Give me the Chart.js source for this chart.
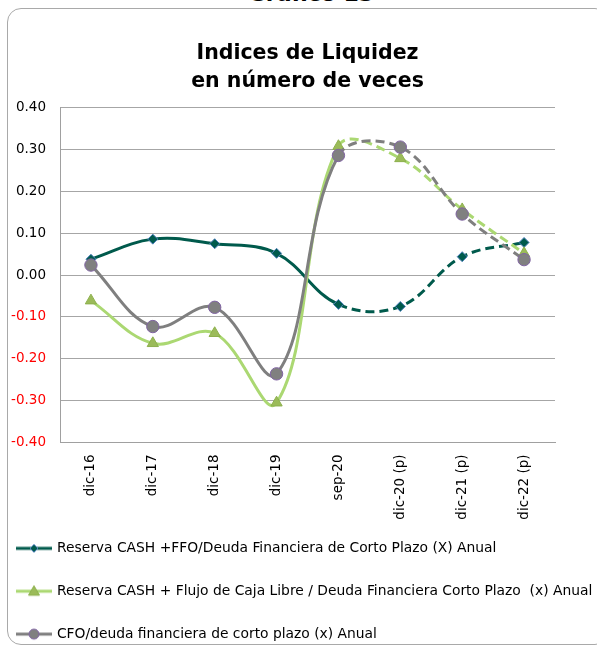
<!DOCTYPE html>
<html>
<head>
<meta charset="utf-8">
<script src="https://cdn.jsdelivr.net/npm/chart.js@4/dist/chart.umd.min.js"></script>
<style>
  html, body { margin: 0; padding: 0; background: #fff; width: 597px; height: 646px; overflow: hidden; }
  #frame { position: absolute; left: 7px; top: 8px; width: 600px; height: 635px;
           border: 1px solid #a9a9a9; border-radius: 14px; }
  #caption { position: absolute; left: 0; top: -17.5px; width: 622px; text-align: center;
             font: bold 22px "DejaVu Sans"; line-height: 22px; color: #000; }
  #wrap { position: absolute; left: 0; top: 0; width: 620px; height: 672px; }
</style>
</head>
<body>
<div id="frame"></div>
<div id="caption">Gráfico 13</div>
<div id="wrap"><canvas id="chart" width="620" height="672"></canvas></div>
<script>
// data
const categories = ['dic-16', 'dic-17', 'dic-18', 'dic-19', 'sep-20', 'dic-20 (p)', 'dic-21 (p)', 'dic-22 (p)'];
const reservaFfo = [0.038, 0.086, 0.075, 0.052, -0.070, -0.075, 0.044, 0.078];
const reservaFcl = [-0.061, -0.163, -0.139, -0.305, 0.308, 0.279, 0.157, 0.052];
const cfoDeuda = [0.024, -0.123, -0.077, -0.236, 0.286, 0.306, 0.146, 0.037];
const seriesNames = [
  'Reserva CASH +FFO/Deuda Financiera de Corto Plazo (X) Anual',
  'Reserva CASH + Flujo de Caja Libre / Deuda Financiera Corto Plazo  (x) Anual',
  'CFO/deuda financiera de corto plazo (x) Anual'
];
const titleLines = ['Indices de Liquidez', 'en número de veces'];
const yMin = -0.4, yMax = 0.4, yStep = 0.1;
const firstProjected = 4; // dashed from sep-20 on

const styles = [
  { line: '#005a4c', fill: '#005a4c', border: '#4f81bd', shape: 'rectRot', r: 5 },
  { line: '#abd872', fill: '#9bbb59', border: '#8db04d', shape: 'triangle', r: 6.5 },
  { line: '#7f7f7f', fill: '#808080', border: '#8064a2', shape: 'circle', r: 6.2 }
];

function legendIcon(s) {
  const c = document.createElement('canvas');
  c.width = 36; c.height = 14;
  const g = c.getContext('2d');
  g.strokeStyle = s.line; g.lineWidth = 3;
  g.beginPath(); g.moveTo(0, 7); g.lineTo(36, 7); g.stroke();
  g.fillStyle = s.fill; g.strokeStyle = s.border; g.lineWidth = 1;
  g.beginPath();
  if (s.shape === 'rectRot') {
    g.moveTo(18, 3); g.lineTo(22, 7); g.lineTo(18, 11); g.lineTo(14, 7);
  } else if (s.shape === 'triangle') {
    g.moveTo(18, 1.5); g.lineTo(23.5, 11); g.lineTo(12.5, 11);
  } else {
    g.arc(18, 7, 5, 0, Math.PI * 2);
  }
  g.closePath(); g.fill(); g.stroke();
  return c;
}

function makeSet(i, values) {
  const s = styles[i];
  return {
    label: seriesNames[i],
    data: values,
    order: 3 - i,
    borderColor: s.line,
    borderWidth: 3,
    tension: 0.38,
    pointStyle: s.shape,
    pointRadius: s.r,
    pointBackgroundColor: s.fill,
    pointBorderColor: s.border,
    pointBorderWidth: 1,
    segment: {
      borderDash: ctx => ctx.p0DataIndex >= firstProjected ? [9, 5] : undefined
    }
  };
}

// x labels need the full axis box (they are clipped to it), so pull the legend up a bit
// and let it run to the canvas edge like the original, which is cut off at the right
const legendShift = {
  id: 'legendShift',
  afterLayout(chart) {
    const lg = chart.legend;
    lg.top -= 10;
    lg.bottom -= 10;
    lg.right = chart.width;
    lg.width = lg.right - lg.left;
  }
};

Chart.defaults.font.family = '"DejaVu Sans"';
Chart.defaults.color = '#000';
Chart.defaults.animation = false;

new Chart(document.getElementById('chart'), {
  type: 'line',
  data: {
    labels: categories,
    datasets: [makeSet(0, reservaFfo), makeSet(1, reservaFcl), makeSet(2, cfoDeuda)]
  },
  plugins: [legendShift],
  options: {
    responsive: false,
    layout: { padding: { left: -11, right: 65, top: 0, bottom: 11 } },
    plugins: {
      tooltip: { enabled: false },
      title: {
        display: true,
        fullSize: false,
        text: titleLines,
        color: '#000',
        font: { size: 20.5, weight: 'bold', lineHeight: 1.36 },
        padding: { top: 40, bottom: 12 }
      },
      legend: {
        position: 'bottom',
        align: 'start',
        labels: {
          usePointStyle: true,
          pointStyleWidth: 32,
          padding: 29,
          color: '#000',
          font: { size: 13.85 },
          generateLabels: chart => chart.data.datasets.map((ds, i) => ({
            text: ds.label,
            pointStyle: legendIcon(styles[i]),
            datasetIndex: i,
            lineWidth: 0,
            hidden: false
          }))
        }
      }
    },
    scales: {
      x: {
        offset: true,
        grid: { display: false, drawTicks: false },
        border: { color: '#a0a0a0' },
        ticks: { minRotation: 90, maxRotation: 90, padding: 12, font: { size: 13.5 } },
        afterFit: scale => { scale.height = 80; }
      },
      y: {
        min: yMin,
        max: yMax,
        grid: { color: '#a6a6a6', drawTicks: false },
        border: { color: '#a0a0a0' },
        ticks: {
          stepSize: yStep,
          padding: 14,
          font: { size: 13.5 },
          color: ctx => ctx.tick.value < -1e-9 ? '#ff0000' : '#000',
          callback: v => v.toFixed(2)
        },
        afterFit: scale => { scale.width = 71; }
      }
    }
  }
});
</script>
</body>
</html>
